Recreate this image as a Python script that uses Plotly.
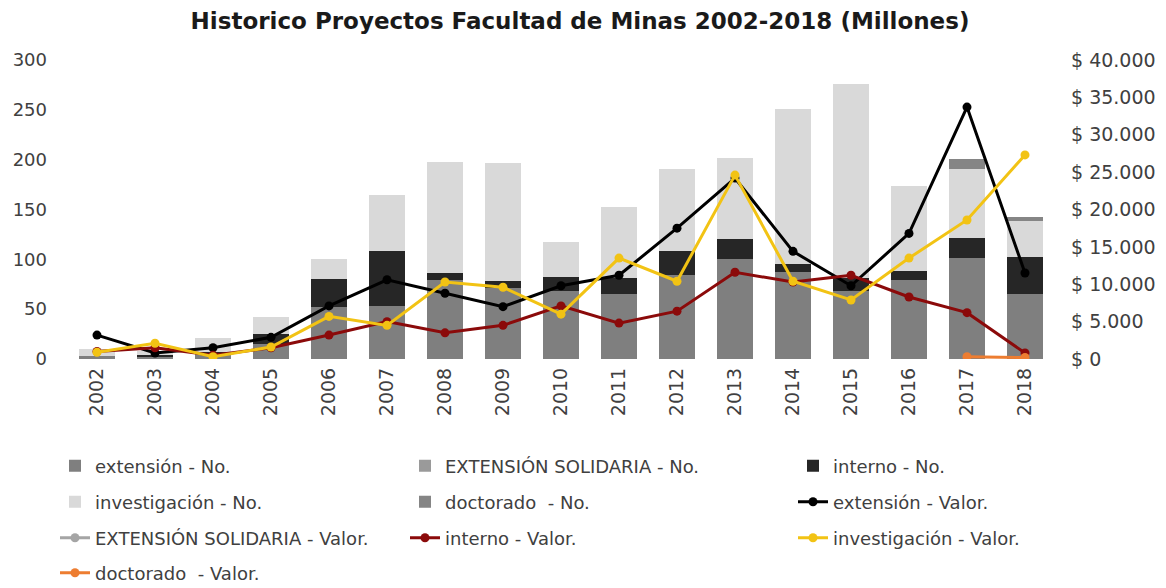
import plotly.graph_objects as go

years = [str(y) for y in range(2002, 2019)]

# Number of projects (left axis, stacked bars)
ext_no = [3, 3, 6, 15, 52, 53, 79, 71, 68, 65, 84, 100, 87, 68, 79, 101, 65]
ext_sol_no = [0] * 17
interno_no = [0, 1, 1, 10, 28, 55, 7, 7, 14, 16, 24, 20, 8, 13, 9, 20, 37]
invest_no = [7, 4, 14, 17, 20, 57, 112, 119, 35, 72, 83, 82, 156, 195, 86, 70, 36]
doct_no = [0, 0, 0, 0, 0, 0, 0, 0, 0, 0, 0, 0, 0, 0, 0, 10, 4]

# Values in millions (right axis, lines)
ext_val = [3200, 800, 1500, 2900, 7100, 10600, 8800, 7000, 9800, 11200, 17500, 24200,
           14400, 9800, 16800, 33700, 11500]
ext_sol_val = [None] * 17
interno_val = [1000, 1500, 500, 1500, 3200, 5000, 3500, 4500, 7100, 4800, 6400, 11600,
               10300, 11200, 8300, 6200, 800]
invest_val = [900, 2100, 300, 1600, 5700, 4500, 10300, 9600, 6000, 13500, 10400, 24600,
              10400, 7900, 13500, 18600, 27300]
doct_val = [None] * 15 + [300, 200]

FONT = "DejaVu Sans, Verdana, sans-serif"
OFF = 8  # page body offset of the figure

fig = go.Figure()

bar_specs = [
    ("extensión - No.", ext_no, "#7f7f7f"),
    ("EXTENSIÓN SOLIDARIA - No.", ext_sol_no, "#9a9a9a"),
    ("interno - No.", interno_no, "#262626"),
    ("investigación - No.", invest_no, "#d9d9d9"),
    ("doctorado  - No.", doct_no, "#858585"),
]
line_specs = [
    ("extensión - Valor.", ext_val, "#000000"),
    ("EXTENSIÓN SOLIDARIA - Valor.", ext_sol_val, "#a5a5a5"),
    ("interno - Valor.", interno_val, "#8b0a0a"),
    ("investigación - Valor.", invest_val, "#f2c314"),
    ("doctorado  - Valor.", doct_val, "#ed7d31"),
]

# legend positions (text start x, row center y) in screen pixels
col_x = [95, 445, 833]
row_y = [466, 502, 538, 573]
legend_layout = {}
for k in range(10):
    r, c = divmod(k, 3)
    key = "legend" if k == 0 else f"legend{k + 1}"
    legend_layout[key] = dict(
        xref="container", yref="container",
        x=(col_x[c] - 40 - OFF) / 1166, xanchor="left",
        y=1 - (row_y[r] - OFF) / 588, yanchor="middle",
        bgcolor="rgba(0,0,0,0)", borderwidth=0,
        font=dict(family=FONT, size=18, color="#404040"),
        itemwidth=30, visible=True,
    )

for k, (name, vals, col) in enumerate(bar_specs):
    fig.add_trace(go.Bar(x=years, y=vals, name=name, marker=dict(color=col, line=dict(width=0)),
                         yaxis="y", showlegend=True,
                         legend="legend" if k == 0 else f"legend{k + 1}"))

for j, (name, vals, col) in enumerate(line_specs):
    k = j + 5
    fig.add_trace(go.Scatter(x=years, y=vals, name=name, mode="lines+markers",
                             line=dict(color=col, width=3),
                             marker=dict(color=col, size=9), showlegend=True,
                             yaxis="y2", legend=f"legend{k + 1}"))

fig.update_layout(
    width=1166, height=588,
    showlegend=True,
    barmode="stack",
    bargap=0.38,
    separators=",.",
    paper_bgcolor="white", plot_bgcolor="white",
    margin=dict(l=68 - OFF, r=1166 - 1054 + OFF, t=60 - OFF, b=588 - 359 + OFF, autoexpand=False),
    font=dict(family=FONT, color="#404040"),
    title=dict(text="<b>Historico Proyectos Facultad de Minas 2002-2018 (Millones)</b>",
               x=(580 - OFF) / 1166, xanchor="center", y=1 - (21 - OFF) / 588, yanchor="middle",
               font=dict(family=FONT, size=23, color="#1a1a1a")),
    xaxis=dict(type="category", range=[-0.5, 16.5], tickangle=-90, showgrid=False,
               showline=False, zeroline=False, ticks="", ticklabelstandoff=4,
               tickfont=dict(family=FONT, size=19, color="#404040")),
    yaxis=dict(range=[0, 300], dtick=50, showgrid=False, showline=False, zeroline=False,
               ticks="", ticklabelstandoff=20, tickfont=dict(family=FONT, size=18, color="#404040")),
    yaxis2=dict(range=[0, 40000], dtick=5000, overlaying="y", side="right", showgrid=False,
                showline=False, zeroline=False, ticks="", tickprefix="$ ", tickformat=",d",
                ticklabelstandoff=16, tickfont=dict(family=FONT, size=19, color="#404040")),
    **legend_layout,
)

fig.write_html("out.html")
